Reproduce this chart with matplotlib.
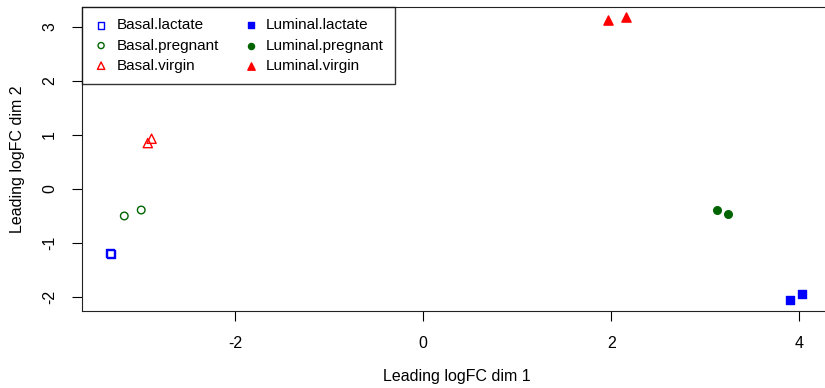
import matplotlib
matplotlib.use("Agg")
import matplotlib.pyplot as plt

plt.rcParams['font.family'] = ['Liberation Sans', 'DejaVu Sans']
plt.rcParams['axes.unicode_minus'] = False

# MDS coordinates
groups = ["Basal.lactate", "Basal.pregnant", "Basal.virgin",
          "Luminal.lactate", "Luminal.pregnant", "Luminal.virgin"]
dim1 = {
    "Basal.lactate": [-3.33, -3.32],
    "Basal.pregnant": [-3.18, -3.00],
    "Basal.virgin": [-2.93, -2.89],
    "Luminal.lactate": [3.90, 4.03],
    "Luminal.pregnant": [3.13, 3.24],
    "Luminal.virgin": [1.97, 2.16],
}
dim2 = {
    "Basal.lactate": [-1.19, -1.20],
    "Basal.pregnant": [-0.50, -0.39],
    "Basal.virgin": [0.85, 0.93],
    "Luminal.lactate": [-2.05, -1.94],
    "Luminal.pregnant": [-0.39, -0.46],
    "Luminal.virgin": [3.13, 3.19],
}
colours = {"lactate": "blue", "pregnant": "darkgreen", "virgin": "red"}
shapes = {"lactate": "s", "pregnant": "o", "virgin": "^"}
sizes = {"lactate": 36, "pregnant": 30, "virgin": 44}

fig = plt.figure(figsize=(8.25, 3.88), dpi=100)
ax = fig.add_axes([82 / 825, 1 - 311 / 388, (832 - 82) / 825, (311 - 7) / 388])

handles = []
for g in groups:
    cell, stage = g.split(".")
    col = colours[stage]
    face = col if cell == "Luminal" else "none"
    h = ax.scatter(dim1[g], dim2[g], marker=shapes[stage], s=sizes[stage],
                   facecolors=face, edgecolors=col, linewidths=1.0, label=g)
    handles.append(h)

ax.set_xlim(-3.63, 4.35)
ax.set_ylim(-2.26, 3.37)
ax.set_xticks([-2, 0, 2, 4])
ax.set_yticks([-2, -1, 0, 1, 2, 3])
ax.tick_params(direction="out", length=7, labelsize=11.5, pad=11)
for lab in ax.get_yticklabels():
    lab.set_rotation(90)
    lab.set_va("center")
for sp in ax.spines.values():
    sp.set_color("#222222")
ax.set_xlabel("Leading logFC dim 1", fontsize=11.5, labelpad=13)
ax.set_ylabel("Leading logFC dim 2", fontsize=11.5, labelpad=12)

leg = ax.legend(handles=handles, ncol=2, loc="upper left", fontsize=11,
                frameon=True, fancybox=False, borderaxespad=0,
                handletextpad=0.5, columnspacing=1.6, labelspacing=0.4,
                borderpad=0.75, handlelength=1.0, markerscale=0.8)
leg.get_frame().set_edgecolor("black")
leg.get_frame().set_linewidth(1.0)

fig.savefig("out.png", dpi=100)
